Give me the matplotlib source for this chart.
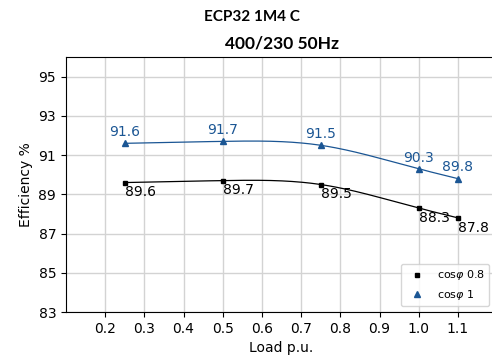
import matplotlib
matplotlib.use('Agg')
import matplotlib.pyplot as plt
import numpy as np

load = [0.25, 0.5, 0.75, 1.0, 1.1]
eff_08 = [89.6, 89.7, 89.5, 88.3, 87.8]
eff_1 = [91.6, 91.7, 91.5, 90.3, 89.8]
xticks = [0.2, 0.3, 0.4, 0.5, 0.6, 0.7, 0.8, 0.9, 1.0, 1.1]
yticks = [83, 85, 87, 89, 91, 93, 95]

blue = '#1b5694'


def spline(x, y, n=200):
    # natural cubic spline through the points
    x = np.asarray(x, float)
    y = np.asarray(y, float)
    k = len(x)
    h = np.diff(x)
    A = np.zeros((k, k))
    b = np.zeros(k)
    A[0, 0] = A[-1, -1] = 1
    for i in range(1, k - 1):
        A[i, i - 1] = h[i - 1]
        A[i, i] = 2 * (h[i - 1] + h[i])
        A[i, i + 1] = h[i]
        b[i] = 6 * ((y[i + 1] - y[i]) / h[i] - (y[i] - y[i - 1]) / h[i - 1])
    m = np.linalg.solve(A, b)
    xs = np.linspace(x[0], x[-1], n)
    idx = np.clip(np.searchsorted(x, xs) - 1, 0, k - 2)
    x0, x1 = x[idx], x[idx + 1]
    hh = x1 - x0
    t0, t1 = x1 - xs, xs - x0
    ys = (m[idx] * t0 ** 3 + m[idx + 1] * t1 ** 3) / (6 * hh) \
        + (y[idx] / hh - m[idx] * hh / 6) * t0 \
        + (y[idx + 1] / hh - m[idx + 1] * hh / 6) * t1
    return xs, ys


fig = plt.figure(figsize=(4.92, 3.6), dpi=100)
ax = fig.add_axes([0.134, 0.1333, 0.8764, 0.7083])

xs, ys = spline(load, eff_08)
ax.plot(xs, ys, color='black', lw=0.9)
ax.plot(load, eff_08, 's', color='black', ms=3.5, label=r'cos$\varphi$ 0.8')
xs, ys = spline(load, eff_1)
ax.plot(xs, ys, color=blue, lw=0.9)
ax.plot(load, eff_1, '^', color=blue, ms=4, label=r'cos$\varphi$ 1')

for x, y in zip(load, eff_08):
    ax.annotate(f'{y}', (x, y), xytext=(0, -2), textcoords='offset points',
                ha='left', va='top', fontsize=10, color='black')
for x, y in zip(load, eff_1):
    ax.annotate(f'{y}', (x, y), xytext=(0, 3), textcoords='offset points',
                ha='center', va='bottom', fontsize=10, color=blue)

ax.set_xlim(0.1, 1.2)
ax.set_ylim(83, 96)
ax.set_xticks(xticks)
ax.set_xticklabels([f'{t:.1f}' for t in xticks])
ax.set_yticks(yticks)
ax.grid(True, color='#d3d3d3', lw=1)
ax.set_axisbelow(True)
ax.tick_params(labelsize=10)
ax.set_xlabel('Load p.u.', fontsize=10)
ax.set_ylabel('Efficiency %', fontsize=10)
ax.set_title('400/230 50Hz', fontsize=12.5, fontweight='bold', family='Lato', pad=6)
fig.text(0.512, 0.952, 'ECP32 1M4 C', ha='center', va='center',
         fontsize=11, fontweight='bold', family='Lato')
ax.legend(loc='lower right', bbox_to_anchor=(0.995, 0.0), fontsize=8)

fig.savefig('out.png', dpi=100)
